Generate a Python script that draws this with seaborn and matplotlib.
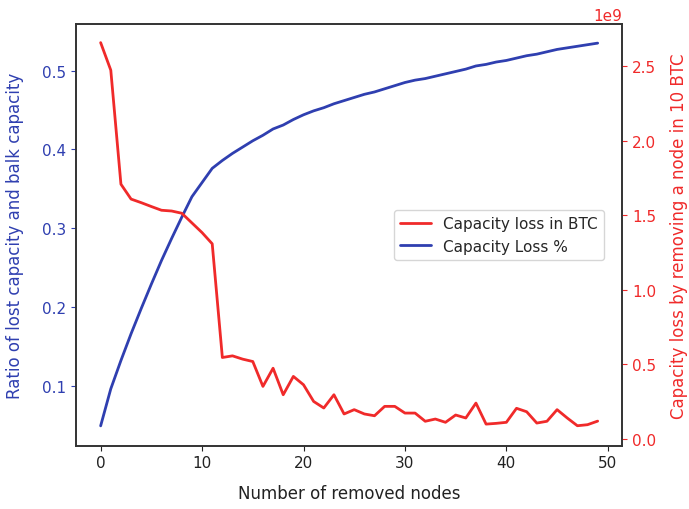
import matplotlib
matplotlib.use("Agg")
import matplotlib.pyplot as plt
import seaborn as sns
import numpy as np
import pandas as pd

nodes = list(range(50))
loss_pct = [0.049, 0.096, 0.132, 0.166, 0.198, 0.229, 0.259, 0.287, 0.314, 0.340,
            0.358, 0.376, 0.386, 0.395, 0.403, 0.411, 0.418, 0.426, 0.431, 0.438,
            0.444, 0.449, 0.453, 0.458, 0.462, 0.466, 0.470, 0.473, 0.477, 0.481,
            0.485, 0.488, 0.490, 0.493, 0.496, 0.499, 0.502, 0.506, 0.508, 0.511,
            0.513, 0.516, 0.519, 0.521, 0.524, 0.527, 0.529, 0.531, 0.533, 0.535]
loss_btc = [2.66, 2.475, 1.71, 1.61, 1.586, 1.56, 1.535, 1.53, 1.515, 1.45,
            1.385, 1.31, 0.547, 0.558, 0.536, 0.52, 0.353, 0.475, 0.297, 0.42,
            0.364, 0.252, 0.208, 0.297, 0.168, 0.197, 0.168, 0.156, 0.219, 0.219,
            0.174, 0.174, 0.119, 0.134, 0.112, 0.161, 0.141, 0.241, 0.100, 0.105,
            0.112, 0.206, 0.183, 0.107, 0.119, 0.197, 0.141, 0.089, 0.096, 0.120]
loss_btc = [v * 1e9 for v in loss_btc]

df = pd.DataFrame({"nodes": nodes, "pct": loss_pct, "btc": loss_btc})

sns.set_style("ticks")
plt.rcParams['font.family'] = ['DejaVu Sans']
FS = 12
BLUE = "#2f3fb0"
RED = "#f02a2a"

fig = plt.figure(figsize=(6.89, 5.10), dpi=100)
ax = fig.add_axes([0.1103, 0.1241, 0.7929, 0.8269])
ax2 = ax.twinx()

sns.lineplot(data=df, x="nodes", y="pct", ax=ax, color=BLUE, lw=2.0, label="Capacity Loss %", legend=False)
sns.lineplot(data=df, x="nodes", y="btc", ax=ax2, color=RED, lw=2.0, label="Capacity loss in BTC", legend=False)

ax.set_xlim(-2.43, 51.43)
ax.set_ylim(0.0238, 0.5593)
ax2.set_ylim(-0.045e9, 2.785e9)
ax.set_xticks([0, 10, 20, 30, 40, 50])
ax.set_yticks([0.1, 0.2, 0.3, 0.4, 0.5])
ax2.set_yticks([0, 0.5e9, 1.0e9, 1.5e9, 2.0e9, 2.5e9])

ax.set_xlabel("Number of removed nodes", fontsize=FS, color="#222222", labelpad=10)
ax.set_ylabel("Ratio of lost capacity and balk capacity", fontsize=FS, color=BLUE, labelpad=13)
ax2.set_ylabel("Capacity loss by removing a node in 10 BTC", fontsize=FS, color=RED, labelpad=10)

ax.tick_params(axis='x', labelsize=FS - 1, colors="#222222")
ax.tick_params(axis='y', labelsize=FS - 1, colors=BLUE)
ax2.tick_params(axis='y', labelsize=FS - 1, colors=RED)
ax2.yaxis.get_offset_text().set_color(RED)
ax2.yaxis.get_offset_text().set_fontsize(FS - 1)

for a in (ax, ax2):
    for s in a.spines.values():
        s.set_color("#333333")
        s.set_linewidth(1.2)

h1, l1 = ax2.get_legend_handles_labels()
h2, l2 = ax.get_legend_handles_labels()
ax2.legend(h1 + h2, l1 + l2, loc="center right", bbox_to_anchor=(0.98, 0.5), fontsize=FS - 1, frameon=True)

fig.savefig("out.png", dpi=100)
